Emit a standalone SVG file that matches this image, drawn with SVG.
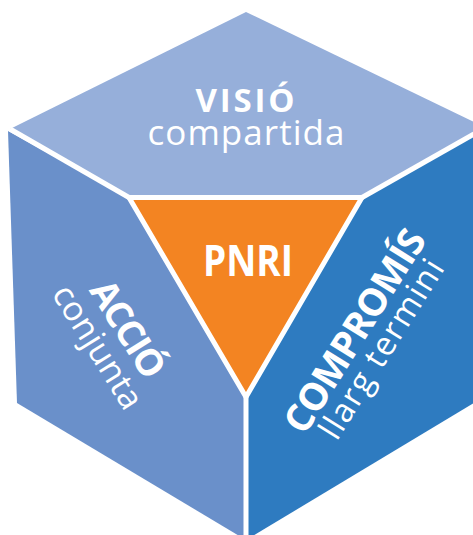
<svg xmlns="http://www.w3.org/2000/svg" width="473" height="535" viewBox="0 0 473 535">
<style>
.t{fill:#fff;font-family:"Open Sans","Noto Sans","DejaVu Sans",sans-serif;text-anchor:middle}
.b{font-weight:700}
.seam{stroke:#fff;stroke-width:5;fill:none}
</style>
<rect width="473" height="535" fill="#fff"/>
<g id="face-top">
<path d="M246,12 L474,122 L474,134 L362,198 L129,197 L10,129 Z" fill="#96AFDA"/>
<text class="t b" x="245" y="112" font-size="33" textLength="99">VISIÓ</text>
<text class="t" x="246" y="145" font-size="35" textLength="197">compartida</text>
</g>
<g id="face-left">
<path d="M8,131 L129,198 L246,397 L246,540 L17,403 Z" fill="#6A90CA"/>
<g transform="translate(117,336) rotate(58)">
<text class="t b" x="0" y="0" font-size="37" textLength="108">ACCIÓ</text>
</g>
<g transform="translate(88,353) rotate(58)">
<text class="t" x="0" y="0" font-size="34" textLength="140">conjunta</text>
</g>
</g>
<g id="face-right">
<path d="M362,198 L474,134 L474,403 L246,540 L246,397 Z" fill="#2E7BC0"/>
<g transform="translate(366,338) rotate(-58)">
<text class="t b" x="0" y="0" font-size="38" textLength="232">COMPROMÍS</text>
</g>
<g transform="translate(391,355) rotate(-58)">
<text class="t" x="0" y="0" font-size="33" textLength="205">llarg termini</text>
</g>
</g>
<g id="connectors">
<path class="seam" d="M10,129 L129,197.5"/>
<path class="seam" d="M362,197.5 L474,134"/>
<path class="seam" d="M246,397 L246,540"/>
</g>
<g id="center">
<path d="M129,197.5 L362,197.5 L246,397 Z" fill="#F38422" stroke="#fff" stroke-width="5" stroke-linejoin="miter"/>
<text class="t b" x="248" y="276" font-size="43" textLength="90" lengthAdjust="spacingAndGlyphs">PNRI</text>
</g>
</svg>
